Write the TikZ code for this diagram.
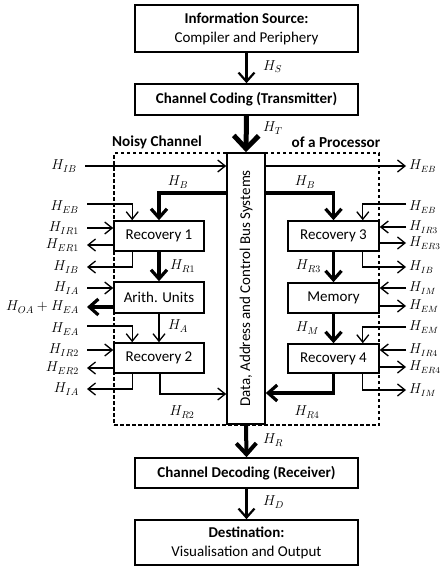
\documentclass[tikz,border=0pt]{standalone}
\usepackage{fontspec}
\setmainfont{Carlito}
\usetikzlibrary{arrows.meta}
\begin{document}
\begin{tikzpicture}[x=1pt,y=-1pt,
  box/.style={draw, line width=1.6pt, fill=white, inner sep=0pt, align=center,
    font=\fontsize{15}{19}\selectfont},
  boldbox/.style={box, font=\fontsize{15}{19}\selectfont\bfseries},
  lab/.style={font=\fontsize{14.5}{16}\selectfont, inner sep=2pt},
  rlab/.style={font=\fontsize{13.5}{16}\selectfont, inner sep=1pt, right=2pt},
  title/.style={font=\fontsize{15.2}{17}\selectfont\bfseries, inner sep=0pt},
  thinarr/.style={line width=1.3pt, -{Straight Barb[length=7.5pt,width=12pt]}},
  thickarr/.style={line width=3.2pt, -{Straight Barb[length=9pt,width=16pt]}},
  medarr/.style={line width=2.2pt, -{Straight Barb[length=9pt,width=16pt]}},
  bigarr/.style={line width=4pt, -{Straight Barb[length=11pt,width=20pt]}},
  hugearr/.style={line width=5pt, -{Straight Barb[length=13pt,width=25pt]}},
  chanbox/.style={draw, line width=1.3pt, dash pattern=on 3.5pt off 2.5pt, inner sep=0pt}
]
\useasboundingbox (0,0) rectangle (441,567);

% dashed frame of the noisy channel
\node[chanbox, minimum width=265pt, minimum height=272pt] (chan) at (246.5,289) {};
\node[title] (tnoisy) at (157,142) {Noisy Channel};
\node[title] (tproc) at (336,142) {of a Processor};

% main chain
\node[box, minimum width=223pt, minimum height=47pt] (src) at (246.5,28.5)
  {\textbf{Information Source:}\\Compiler and Periphery};
\node[boldbox, minimum width=223pt, minimum height=31pt] (enc) at (246.5,99.5)
  {Channel Coding (Transmitter)};
\node[box, minimum width=38pt, minimum height=271pt] (bus) at (246,288.5) {};
\node[rotate=90, font=\fontsize{15}{17}\selectfont, inner sep=0pt] (bustext) at (bus.center)
  {Data, Address and Control Bus Systems};
\node[boldbox, minimum width=223pt, minimum height=30pt] (dec) at (246.5,473)
  {Channel Decoding (Receiver)};
\node[box, minimum width=223pt, minimum height=45pt] (dst) at (246.5,542.5)
  {\textbf{Destination:}\\Visualisation and Output};

% processing units
\node[box, minimum width=90pt, minimum height=30pt] (rec1) at (159,236) {Recovery 1};
\node[box, minimum width=90pt, minimum height=31pt] (alu) at (159,297.5) {Arith. Units};
\node[box, minimum width=90pt, minimum height=30pt] (rec2) at (159,358) {Recovery 2};
\node[box, minimum width=91pt, minimum height=30pt] (rec3) at (333.5,236) {Recovery 3};
\node[box, minimum width=91pt, minimum height=30pt] (mem) at (333.5,298) {Memory};
\node[box, minimum width=91pt, minimum height=29pt] (rec4) at (333.5,358.5) {Recovery 4};

% main chain arrows
\draw[medarr] (src.south) -- (enc.north);
\node[lab, anchor=west] (tS) at (261,67) {$H_S$};
\draw[hugearr] (enc.south) -- (bus.north);
\node[lab, anchor=west] (tT) at (261,128) {$H_T$};
\draw[bigarr] (bus.south) -- (dec.north);
\node[lab, anchor=west] (tR) at (261,440) {$H_R$};
\draw[medarr] (dec.south) -- (dst.north);
\node[lab, anchor=west] (tD) at (261,502) {$H_D$};

% bus inputs and outputs at the top
\coordinate (inIB) at (85,166);
\draw[thinarr] (inIB) -- (inIB -| bus.west);
\node[lab, left=6pt] (tinIB) at (inIB) {$H_{IB}$};
\coordinate (outEB) at (406,166);
\draw[thinarr] (outEB -| bus.east) -- (outEB);
\node[rlab] (toutEB) at (outEB) {$H_{EB}$};

% ---------- left column ----------
\draw[thickarr] (bus.west |- 0,193) -| (rec1.north);
\node[lab] (tBL) at (178,182) {$H_B$};

\coordinate (lEB) at (87,204);
\draw[thinarr] (lEB) -| ([xshift=19pt]rec1.north west);
\node[lab, left=6pt] (tlEB) at ([yshift=-3pt]lEB) {$H_{EB}$};

\coordinate (lIR1) at (87,228);
\draw[thinarr] (lIR1) -- (lIR1 -| rec1.west);
\node[lab, left=6pt] (tlIR1) at (lIR1) {$H_{IR1}$};

\coordinate (lER1) at (87,245);
\draw[thinarr] (lER1 -| rec1.west) -- (lER1);
\node[lab, left=6pt] (tlER1) at (lER1) {$H_{ER1}$};

\coordinate (lIB) at (87,267);
\draw[thinarr] ([xshift=19pt]rec1.south west) |- (lIB);
\node[lab, left=6pt] (tlIB) at (lIB) {$H_{IB}$};

\draw[thickarr] (rec1.south) -- (alu.north);
\node[lab, anchor=west] (tR1) at (168,266) {$H_{R1}$};

\coordinate (lIA) at (87,288);
\draw[thinarr] (lIA) -- (lIA -| alu.west);
\node[lab, left=6pt] (tlIA) at (lIA) {$H_{IA}$};

\coordinate (lOA) at (87,307);
\draw[thickarr] (lOA -| alu.west) -- (lOA);
\node[lab, left=6pt] (tlOA) at (lOA) {$H_{OA}+H_{EA}$};

\draw[thinarr] (alu.south) -- (rec2.north);
\node[lab, anchor=west] (tA) at (166,326) {$H_A$};

\coordinate (lEA) at (87,326);
\draw[thinarr] (lEA) -| ([xshift=19pt]rec2.north west);
\node[lab, left=6pt] (tlEA) at ([yshift=-3pt]lEA) {$H_{EA}$};

\coordinate (lIR2) at (87,350);
\draw[thinarr] (lIR2) -- (lIR2 -| rec2.west);
\node[lab, left=6pt] (tlIR2) at (lIR2) {$H_{IR2}$};

\coordinate (lER2) at (87,368);
\draw[thinarr] (lER2 -| rec2.west) -- (lER2);
\node[lab, left=6pt] (tlER2) at (lER2) {$H_{ER2}$};

\coordinate (lIA2) at (87,389);
\draw[thinarr] ([xshift=19pt]rec2.south west) |- (lIA2);
\node[lab, left=6pt] (tlIA2) at (lIA2) {$H_{IA}$};

\draw[thinarr] ([xshift=1pt]rec2.south) |- (bus.west |- 0,394);
\node[lab] (tR2) at (182,412) {$H_{R2}$};

% ---------- right column ----------
\draw[thickarr] (bus.east |- 0,193) -| (rec3.north);
\node[lab] (tBR) at (305,182) {$H_B$};

\coordinate (rEB) at (406,204);
\draw[thinarr] (rEB) -| ([xshift=-17pt]rec3.north east);
\node[rlab] (trEB) at ([yshift=-3pt]rEB) {$H_{EB}$};

\coordinate (rIR3) at (406,227);
\draw[thinarr] (rIR3) -- (rIR3 -| rec3.east);
\node[rlab] (trIR3) at (rIR3) {$H_{IR3}$};

\coordinate (rER3) at (406,243);
\draw[thinarr] (rER3 -| rec3.east) -- (rER3);
\node[rlab] (trER3) at (rER3) {$H_{ER3}$};

\coordinate (rIB) at (406,267);
\draw[thinarr] ([xshift=-17pt]rec3.south east) |- (rIB);
\node[rlab] (trIB) at (rIB) {$H_{IB}$};

\draw[thickarr] (rec3.south) -- (mem.north);
\node[lab, anchor=east] (tR3) at (323,266) {$H_{R3}$};

\coordinate (rIM) at (406,288);
\draw[thinarr] (rIM) -- (rIM -| mem.east);
\node[rlab] (trIM) at (rIM) {$H_{IM}$};

\coordinate (rEM) at (406,306);
\draw[thinarr] (rEM -| mem.east) -- (rEM);
\node[rlab] (trEM) at (rEM) {$H_{EM}$};

\draw[thickarr] (mem.south) -- (rec4.north);
\node[lab, anchor=east] (tM) at (321,328) {$H_M$};

\coordinate (rEM2) at (406,327);
\draw[thinarr] (rEM2) -| ([xshift=-17pt]rec4.north east);
\node[rlab] (trEM2) at (rEM2) {$H_{EM}$};

\coordinate (rIR4) at (406,350);
\draw[thinarr] (rIR4) -- (rIR4 -| rec4.east);
\node[rlab] (trIR4) at (rIR4) {$H_{IR4}$};

\coordinate (rER4) at (406,367);
\draw[thinarr] (rER4 -| rec4.east) -- (rER4);
\node[rlab] (trER4) at (rER4) {$H_{ER4}$};

\coordinate (rIM2) at (406,390);
\draw[thinarr] ([xshift=-17pt]rec4.south east) |- (rIM2);
\node[rlab] (trIM2) at (rIM2) {$H_{IM}$};

\draw[thickarr] (rec4.south) |- (bus.east |- 0,393);
\node[lab] (tR4) at (307,412) {$H_{R4}$};
\end{tikzpicture}
\end{document}
